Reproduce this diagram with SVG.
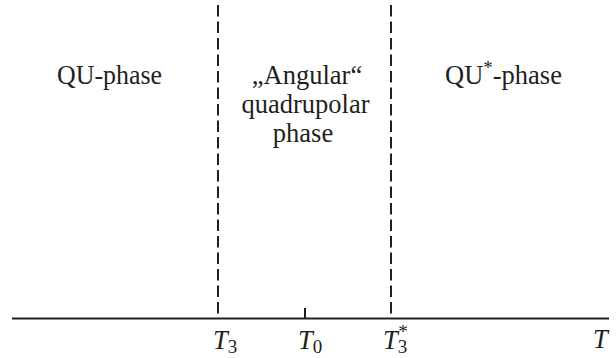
<svg xmlns="http://www.w3.org/2000/svg" width="616" height="358" viewBox="0 0 616 358">
<style>
text{font-family:"Liberation Serif","Times New Roman",serif;font-size:26.5px;fill:#231f20}
.c{text-anchor:middle}
.i{font-style:italic}
.s{font-size:19px}
.ax{stroke:#231f20;stroke-width:2;fill:none}
.d{stroke:#231f20;stroke-width:2;stroke-dasharray:11.5 5;fill:none}
</style>
<rect width="616" height="358" fill="#fff"/>
<g id="connectors">
<line class="ax" x1="12" y1="318.5" x2="609" y2="318.5"/>
<line class="d" x1="218" y1="5" x2="218" y2="318"/>
<line class="d" x1="391" y1="5" x2="391" y2="318"/>
<line class="ax" x1="305" y1="308" x2="305" y2="318"/>
</g>
<g id="qu-phase"><text x="57" y="84" textLength="105" lengthAdjust="spacingAndGlyphs">QU-phase</text></g>
<g id="angular-phase">
<text class="c" x="307" y="84">„Angular“</text>
<text class="c" x="305.5" y="113">quadrupolar</text>
<text class="c" x="303" y="142">phase</text>
</g>
<g id="qu-star-phase"><text x="445" y="84">QU<tspan class="s" dy="-10">*</tspan><tspan dy="10">-phase</tspan></text></g>
<g id="labels">
<text x="213" y="349"><tspan class="i">T</tspan><tspan class="s" dy="4">3</tspan></text>
<text x="298" y="349"><tspan class="i">T</tspan><tspan class="s" dy="4">0</tspan></text>
<text x="383" y="349"><tspan class="i">T</tspan><tspan class="s" dy="4">3</tspan><tspan class="s" dx="-9" dy="-15">*</tspan></text>
<text class="i" x="593" y="348">T</text>
</g>
</svg>
